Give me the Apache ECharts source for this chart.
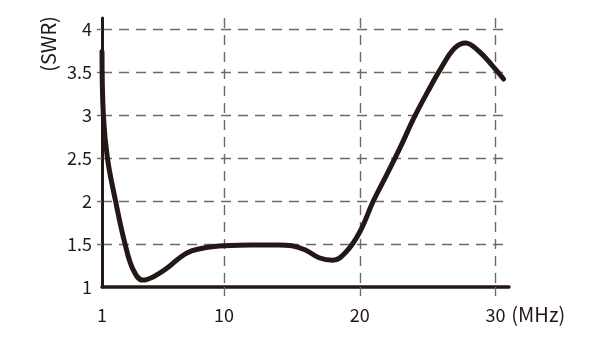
<!DOCTYPE html>
<html>
<head>
<meta charset="utf-8">
<script src="https://cdn.jsdelivr.net/npm/echarts@6/dist/echarts.min.js"></script>
<style>
html,body{margin:0;padding:0;background:#fff;}
#c{width:594px;height:338px;}
</style>
</head>
<body>
<div id="c"></div>
<script>
// Frequency (MHz)
var freq = [1, 1.1, 1.4, 2.0, 2.7, 3.3, 4.0, 4.8, 5.8, 6.8, 7.6, 8.7, 10, 12, 14, 15, 16, 17, 18, 19, 20, 21, 22, 23, 24, 25, 26, 27, 27.8, 28.8, 29.8, 30.6];
// SWR values
var swr  = [3.74, 3.0, 2.5, 2.0, 1.5, 1.2, 1.08, 1.12, 1.22, 1.35, 1.42, 1.46, 1.48, 1.49, 1.49, 1.48, 1.43, 1.34, 1.31, 1.41, 1.64, 2.0, 2.31, 2.63, 2.97, 3.27, 3.55, 3.78, 3.84, 3.74, 3.57, 3.42];
var xLabels = [1, 10, 20, 30];
var xGrid = [10, 20, 30];
var yLabels = [1, 1.5, 2, 2.5, 3, 3.5, 4];
var yGrid = [1.5, 2, 2.5, 3, 3.5, 4];

var ink = '#231815';
var gridCol = '#6a6a6a';
var dash = [10, 7];
var font = 'Noto Sans CJK JP';
var chart = echarts.init(document.getElementById('c'), null, {renderer: 'canvas'});
var data = freq.map(function (f, i) { return [f, swr[i]]; });

chart.setOption({
  animation: false,
  grid: {left: 102, right: 85, top: 18, bottom: 51},
  xAxis: {
    type: 'value', min: 1, max: 31,
    name: '(MHz)', nameLocation: 'end', nameGap: -6,
    nameTextStyle: {color: ink, fontFamily: font, fontSize: 20, verticalAlign: 'top', align: 'left', padding: [17, 0, 0, 0]},
    axisLine: {lineStyle: {color: ink, width: 3.5}},
    axisTick: {show: true, interval: 0, customValues: xGrid, length: 9, inside: false, lineStyle: {color: gridCol, type: dash, width: 1.4}},
    axisLabel: {interval: 0, customValues: xLabels, color: ink, fontFamily: font, fontSize: 18, margin: 19},
    splitLine: {show: true, interval: 0, showMinLine: true, showMaxLine: true, lineStyle: {color: gridCol, type: dash, width: 1.4}}
  },
  yAxis: {
    type: 'value', min: 1, max: 4.13,
    axisLine: {show: true, lineStyle: {color: ink, width: 3}},
    axisTick: {show: true, interval: 0, customValues: yGrid, length: 5, lineStyle: {color: gridCol, width: 1.4}},
    axisLabel: {interval: 0, customValues: yLabels, color: ink, fontFamily: font, fontSize: 18, margin: 10, padding: [10, 0, 0, 0]},
    splitLine: {show: true, interval: 0, showMinLine: true, showMaxLine: true, lineStyle: {color: gridCol, type: dash, width: 1.4}}
  },
  graphic: [{
    type: 'text', x: 48, y: 44, rotation: Math.PI / 2,
    style: {text: '(SWR)', fill: ink, font: '20px "Noto Sans CJK JP"', align: 'center', verticalAlign: 'middle'}
  }],
  series: [{
    type: 'line', data: data, smooth: 0.4, symbol: 'none', clip: false,
    lineStyle: {color: ink, width: 5, cap: 'round', join: 'round'}
  }]
});
</script>
</body>
</html>
